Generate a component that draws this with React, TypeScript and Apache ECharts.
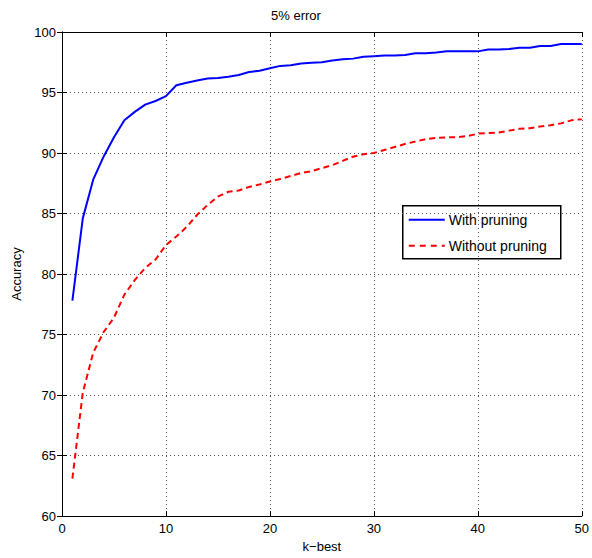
import React, { useEffect, useRef } from "react";
import * as echarts from "echarts";

const kValues: number[] = Array.from({ length: 50 }, (_, i) => i + 1);
const withPruning: number[] = [
  77.8, 84.6, 87.8, 89.7, 91.3, 92.7, 93.4, 94.0, 94.3, 94.7,
  95.6, 95.8, 96.0, 96.15, 96.2, 96.3, 96.45, 96.7, 96.8, 97.0,
  97.2, 97.25, 97.4, 97.45, 97.5, 97.65, 97.75, 97.8, 97.95, 98.0,
  98.05, 98.05, 98.1, 98.25, 98.25, 98.3, 98.4, 98.4, 98.4, 98.4,
  98.55, 98.55, 98.6, 98.7, 98.7, 98.85, 98.85, 99.0, 99.0, 99.0,
];
const withoutPruning: number[] = [
  63.1, 70.2, 73.5, 75.2, 76.4, 78.3, 79.5, 80.5, 81.2, 82.4,
  83.1, 83.9, 84.9, 85.7, 86.4, 86.8, 86.9, 87.2, 87.4, 87.65,
  87.85, 88.1, 88.35, 88.5, 88.75, 89.0, 89.35, 89.7, 89.9, 90.0,
  90.25, 90.5, 90.75, 90.95, 91.15, 91.25, 91.3, 91.3, 91.4, 91.6,
  91.65, 91.7, 91.85, 92.0, 92.05, 92.2, 92.3, 92.45, 92.7, 92.8,
];
const seriesNames = ["With pruning", "Without pruning"];
const seriesColors = ["#0000ff", "#ff0000"];

const FONT = "Liberation Sans, Arial, sans-serif";

export default function App() {
  const ref = useRef<HTMLDivElement>(null);
  useEffect(() => {
    if (!ref.current) return;
    const chart = echarts.init(ref.current, undefined, { renderer: "svg" });
    const axisLine = { show: true, lineStyle: { color: "#000", width: 1 } };
    const tick = { show: true, inside: true, length: 5, lineStyle: { color: "#000" } };
    const legendX = 402;
    const legendY = 205;
    chart.setOption({
      animation: false,
      backgroundColor: "#fff",
      title: {
        text: "5% error",
        left: "center",
        top: 4,
        textStyle: { fontFamily: FONT, fontSize: 13, fontWeight: "normal", color: "#000" },
      },
      grid: { left: 62, right: 9, top: 32, bottom: 41, containLabel: false },
      graphic: [
        {
          type: "group",
          left: legendX,
          top: legendY,
          z: 100,
          children: [
            {
              type: "rect",
              shape: { x: 0, y: 0, width: 158, height: 53 },
              style: { fill: "#fff", stroke: "#000", lineWidth: 1.5 },
            },
            ...seriesNames.flatMap((name, i) => [
              {
                type: "line",
                shape: { x1: 6, y1: 14 + i * 26, x2: 42, y2: 14 + i * 26 },
                style: {
                  stroke: seriesColors[i],
                  lineWidth: 2,
                  lineDash: i === 1 ? [6, 5] : null,
                },
              },
              {
                type: "text",
                x: 46,
                y: 14 + i * 26,
                style: {
                  text: name,
                  fontFamily: FONT,
                  fontSize: 14,
                  fill: "#000",
                  verticalAlign: "middle",
                },
              },
            ]),
          ],
        },
      ],
      xAxis: [
        {
          type: "value",
          min: 0,
          max: 50,
          interval: 10,
          name: "k\u2212best",
          nameLocation: "middle",
          nameGap: 23,
          nameTextStyle: { fontFamily: FONT, fontSize: 13, color: "#000" },
          axisLine,
          axisTick: tick,
          axisLabel: { fontFamily: FONT, fontSize: 13, color: "#000", margin: 6 },
          splitLine: { show: true, lineStyle: { color: "#555", type: [1, 3], width: 1 } },
        },
        {
          type: "value",
          position: "top",
          min: 0,
          max: 50,
          interval: 10,
          axisLine,
          axisTick: tick,
          axisLabel: { show: false },
          splitLine: { show: false },
        },
      ],
      yAxis: [
        {
          type: "value",
          min: 60,
          max: 100,
          interval: 5,
          name: "Accuracy",
          nameLocation: "middle",
          nameGap: 34,
          nameTextStyle: { fontFamily: FONT, fontSize: 13, color: "#000" },
          axisLine,
          axisTick: tick,
          axisLabel: { fontFamily: FONT, fontSize: 13, color: "#000", margin: 6 },
          splitLine: { show: true, lineStyle: { color: "#555", type: [1, 3], width: 1 } },
        },
        {
          type: "value",
          position: "right",
          min: 60,
          max: 100,
          interval: 5,
          axisLine,
          axisTick: tick,
          axisLabel: { show: false },
          splitLine: { show: false },
        },
      ],
      series: [
        {
          name: seriesNames[0],
          type: "line",
          data: kValues.map((k, i) => [k, withPruning[i]]),
          symbol: "none",
          lineStyle: { color: seriesColors[0], width: 2 },
          itemStyle: { color: seriesColors[0] },
        },
        {
          name: seriesNames[1],
          type: "line",
          data: kValues.map((k, i) => [k, withoutPruning[i]]),
          symbol: "none",
          lineStyle: { color: seriesColors[1], width: 2, type: [6, 4] },
          itemStyle: { color: seriesColors[1] },
        },
      ],
    });
    return () => chart.dispose();
  }, []);
  return (
    <div
      ref={ref}
      style={{ position: "fixed", left: 0, top: 0, width: 592, height: 558 }}
    />
  );
}
